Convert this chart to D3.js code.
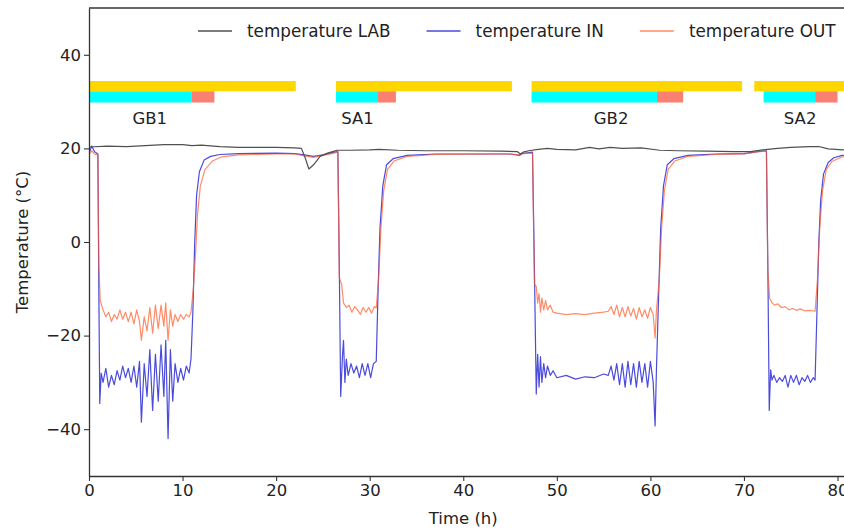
<!DOCTYPE html>
<html>
<head>
<meta charset="utf-8">
<script src="https://cdn.jsdelivr.net/npm/d3@7"></script>
<style>
  body { margin: 0; background: #fff; }
  svg { display: block; font-family: "DejaVu Sans", sans-serif; }
</style>
</head>
<body>
<svg id="chart" width="844" height="531"></svg>
<script>
// ---- data ----
var xTicks = [0, 10, 20, 30, 40, 50, 60, 70, 80];
var yTicks = [-40, -20, 0, 20, 40];

var phaseNames = ["GB1", "SA1", "GB2", "SA2"];
var phaseStart = [0, 26.4, 47.3, 71.1];     // yellow bar
var phaseEnd = [22.1, 45.2, 69.8, 90];
var coolStart = [0, 26.4, 47.3, 72.1];      // cyan bar
var coolEnd = [11.0, 30.8, 60.7, 77.6];
var warmEnd = [13.4, 32.8, 63.5, 80.0];     // salmon bar
var labelAt = [6.5, 28.7, 55.8, 76.0];

var tempLab = [[0,20.3],[2,20.5],[4,20.4],[6,20.6],[8,20.8],[10,20.8],[11,20.6],[12,20.7],[14,20.4],[16,20.2],[18,20.2],[20,20.2],[22,20.1],[22.7,20.0],[23.1,18.0],[23.5,15.6],[24,16.5],[24.7,18.3],[25.5,19.0],[26.5,19.6],[28,19.6],[30,19.7],[31,19.8],[33,19.6],[36,19.5],[40,19.5],[44,19.4],[45.8,19.3],[46.1,18.8],[46.4,19.2],[47,19.5],[48,19.8],[49,20.0],[50,19.8],[52,19.7],[53.5,20.2],[54.5,19.9],[55.7,20.2],[57,20.0],[59,20.1],[61,19.6],[63,19.5],[66,19.4],[69,19.3],[70.7,19.3],[72,19.7],[73.6,20.0],[75,20.2],[77,20.4],[78,20.4],[79,19.9],[80.6,19.7],[82,19.6]];

var tempIn = [[0,19],[0.3,20.5],[0.6,19.3],[0.95,18.8],[1.05,-10],[1.15,-34.5],[1.3,-28],[1.5,-30],[1.8,-27],[2.1,-31],[2.4,-28.5],[2.7,-30.5],[3.0,-27.5],[3.3,-29.5],[3.6,-26.5],[3.9,-29],[4.2,-27],[4.5,-30],[4.8,-26.5],[5.1,-31],[5.4,-25.5],[5.6,-38.5],[5.9,-26],[6.2,-33],[6.5,-23],[6.8,-36],[7.1,-24],[7.4,-34],[7.7,-22],[8.0,-33],[8.2,-21],[8.45,-42],[8.7,-23],[8.95,-34],[9.2,-26],[9.5,-30],[9.8,-27],[10.1,-29.5],[10.4,-26.5],[10.7,-28],[10.9,-25],[11.1,-15],[11.3,0],[11.5,10],[11.8,15],[12.3,17.5],[13,18.3],[14,18.7],[16,18.9],[20,19],[22,18.9],[23,18.6],[24,18.3],[25,18.6],[26.2,19.2],[26.6,19.3],[26.75,-5],[26.9,-33],[27.1,-24],[27.2,-21],[27.35,-30],[27.5,-25],[27.7,-28.5],[28,-26],[28.3,-28],[28.6,-26.5],[28.9,-29],[29.2,-26],[29.5,-28.5],[29.8,-26],[30.1,-29],[30.4,-26],[30.7,-25.5],[30.9,-10],[31.1,3],[31.4,12],[31.8,16.5],[32.5,17.8],[34,18.5],[37,18.8],[45,18.8],[46,18.5],[46.3,18.9],[47.4,19.2],[47.6,-5],[47.8,-32.5],[47.95,-24],[48.1,-31],[48.25,-24.5],[48.4,-30],[48.6,-26],[48.8,-29],[49.0,-26.5],[49.3,-28.5],[49.6,-27.5],[50,-29],[51,-28.5],[52,-29.3],[53,-28.8],[54,-29],[55,-28.2],[55.5,-28.5],[55.8,-26.5],[56.1,-29.5],[56.4,-26],[56.7,-30.5],[57,-26],[57.3,-31],[57.6,-25.5],[57.9,-30.5],[58.2,-26],[58.5,-31],[58.8,-25.5],[59.1,-30],[59.4,-26],[59.7,-31],[60.0,-25.5],[60.3,-30],[60.5,-39.3],[60.65,-27],[60.9,-10],[61.1,3],[61.4,12],[61.8,16.5],[62.5,17.8],[64,18.5],[67,18.8],[70,18.9],[71.5,19.3],[72.4,19.5],[72.55,-5],[72.7,-36],[72.85,-27.3],[73.0,-29.5],[73.2,-28.5],[73.5,-30],[73.8,-29],[74.1,-29.8],[74.4,-28.5],[74.7,-31],[75,-28.5],[75.3,-30],[75.6,-28.5],[75.9,-30.5],[76.2,-29],[76.5,-29.8],[76.8,-28.5],[77.1,-30],[77.4,-29],[77.6,-29.5],[77.8,-15],[78.0,0],[78.2,9],[78.5,14.5],[79,17],[79.6,18],[80.5,18.5],[82,18.8]];

var tempOut = [[0,18.8],[0.3,19.5],[0.6,18.8],[0.95,18.5],[1.05,-5],[1.2,-12.5],[1.5,-14.5],[1.8,-16],[2.1,-15],[2.4,-17],[2.7,-15.5],[3.0,-16.5],[3.3,-14.5],[3.6,-16.5],[3.9,-15],[4.2,-17],[4.5,-15],[4.8,-17.5],[5.1,-14.5],[5.4,-17],[5.6,-21],[5.9,-16],[6.2,-19],[6.5,-14],[6.8,-19.5],[7.1,-13.5],[7.4,-18.5],[7.7,-13.5],[8.0,-18],[8.2,-13],[8.45,-21],[8.7,-14.5],[8.95,-18],[9.2,-15.5],[9.5,-17],[9.8,-15.5],[10.1,-16.5],[10.4,-15.5],[10.7,-16],[10.9,-15],[11.15,-10],[11.4,-2],[11.6,6],[11.9,12],[12.4,15.5],[13.2,17.3],[14.2,18.2],[16,18.6],[20,18.8],[22,18.8],[23,18.4],[24,18.1],[25,18.5],[26.2,19.0],[26.6,19.3],[26.75,-7.7],[27.0,-9],[27.2,-13],[27.5,-14],[27.8,-13.5],[28.1,-15],[28.4,-13.8],[28.7,-14.5],[29,-15.5],[29.3,-14],[29.6,-15],[29.9,-14],[30.2,-15.2],[30.5,-13.8],[30.7,-14.1],[30.95,-8],[31.2,3],[31.5,11],[31.9,15.5],[32.6,17.3],[34,18.3],[37,18.7],[45,18.8],[46,18.6],[46.3,18.9],[47.4,19.0],[47.6,-9],[47.8,-9.5],[47.95,-13],[48.1,-11],[48.25,-15],[48.4,-12],[48.6,-14.5],[48.8,-12.5],[49.0,-14.5],[49.3,-13.5],[49.6,-15],[50,-15.2],[51,-15.5],[52,-15.3],[53,-15.5],[54,-15.2],[55,-15],[55.5,-14.8],[55.8,-13.8],[56.1,-15.5],[56.4,-13.5],[56.7,-16],[57,-14],[57.3,-16],[57.6,-13.8],[57.9,-15.8],[58.2,-14.2],[58.5,-16.5],[58.8,-14],[59.1,-16],[59.4,-14.5],[59.7,-16.3],[60.0,-14],[60.3,-15.5],[60.5,-20.5],[60.65,-14.5],[60.95,-8],[61.2,3],[61.5,11],[61.9,15.5],[62.6,17.3],[64,18.3],[67,18.7],[70,18.8],[71.5,19.3],[72.4,19.4],[72.55,-6.2],[72.75,-12],[73,-13],[73.3,-13.5],[73.6,-13.2],[74,-14],[74.4,-13.8],[74.8,-14.5],[75.2,-14.2],[75.6,-14.6],[76,-14.3],[76.5,-14.7],[77,-14.6],[77.6,-14.8],[77.85,-8],[78.1,3],[78.4,11],[78.8,15.5],[79.4,17.2],[80.5,18.2],[82,18.6]];

var seriesNames = ["temperature LAB", "temperature IN", "temperature OUT"];
var seriesColors = ["#505050", "#2b2bd6", "#ff5a28"];

// ---- chart ----
var margin = {top: 8, left: 89},
    plotW = 800, plotH = 468;

var svg = d3.select("#chart");

var x = d3.scaleLinear().domain([0, 85.5]).range([0, plotW]);
var y = d3.scaleLinear().domain([-50, 50]).range([plotH, 0]);

svg.append("defs").append("clipPath").attr("id", "clip")
  .append("rect").attr("width", plotW).attr("height", plotH);

var g = svg.append("g").attr("transform", "translate(" + margin.left + "," + margin.top + ")");
var plot = g.append("g").attr("clip-path", "url(#clip)");

// phase bars
function bars(starts, ends, lo, hi, color){
  plot.selectAll(null).data(starts).enter().append("rect")
    .attr("x", function(d){ return x(d); })
    .attr("width", function(d, i){ return x(ends[i]) - x(d); })
    .attr("y", y(hi))
    .attr("height", y(lo) - y(hi))
    .attr("fill", color);
}
bars(phaseStart, phaseEnd, 32.2, 34.4, "gold");
bars(coolEnd, warmEnd, 29.8, 32.2, "salmon");
bars(coolStart, coolEnd, 29.8, 32.2, "cyan");

plot.selectAll(null).data(phaseNames).enter().append("text")
  .attr("x", function(d, i){ return x(labelAt[i]); })
  .attr("y", y(26.4))
  .attr("dy", "0.35em")
  .attr("text-anchor", "middle")
  .attr("font-size", 16.5)
  .attr("fill", "#222")
  .text(function(d){ return d; });

// lines
var line = d3.line()
  .x(function(d){ return x(d[0]); })
  .y(function(d){ return y(d[1]); });

var series = [tempLab, tempIn, tempOut];
var opac = [1, 0.85, 0.7];
[1, 2, 0].forEach(function(k){
  plot.append("path")
    .datum(series[k])
    .attr("fill", "none")
    .attr("stroke", seriesColors[k])
    .attr("stroke-opacity", opac[k])
    .attr("stroke-width", 1.2)
    .attr("stroke-linejoin", "round")
    .attr("d", line);
});

// axes
var xAxis = d3.axisBottom(x).tickValues(xTicks).tickSize(5).tickPadding(3).tickSizeOuter(0);
var yAxis = d3.axisLeft(y).tickValues(yTicks).tickSize(5).tickPadding(3).tickSizeOuter(0)
  .tickFormat(function(d){ return d < 0 ? "\u2212" + Math.abs(d) : d; });

g.append("g").attr("class", "axis").attr("transform", "translate(0," + plotH + ")").call(xAxis);
g.append("g").attr("class", "axis").call(yAxis);
g.append("line").attr("x1", 0).attr("x2", plotW).attr("y1", 0).attr("y2", 0)
  .attr("stroke", "#333").attr("stroke-width", 1.3);

g.selectAll(".axis path").attr("stroke", "#333").attr("stroke-width", 1.3);
g.selectAll(".axis line").attr("stroke", "#333").attr("stroke-width", 1.1);
g.selectAll(".axis text").attr("font-size", 16.5).attr("fill", "#222")
  .attr("font-family", "DejaVu Sans, sans-serif");

g.append("text")
  .attr("x", x(40)).attr("y", plotH + 48)
  .attr("text-anchor", "middle").attr("font-size", 16.5).attr("fill", "#222")
  .text("Time (h)");

g.append("text")
  .attr("transform", "translate(" + (-61) + "," + y(0) + ") rotate(-90)")
  .attr("text-anchor", "middle").attr("font-size", 16.5).attr("fill", "#222")
  .text("Temperature (\u00b0C)");

// legend
var legend = g.append("g").attr("transform", "translate(109," + 23 + ")");
var lx = 0;
seriesNames.forEach(function(name, i){
  legend.append("line")
    .attr("x1", lx).attr("x2", lx + 34).attr("y1", 0).attr("y2", 0)
    .attr("stroke", seriesColors[i]).attr("stroke-opacity", opac[i]).attr("stroke-width", 1.4);
  var t = legend.append("text")
    .attr("x", lx + 49).attr("y", 0).attr("dy", "0.35em")
    .attr("font-size", 16.8).attr("fill", "#222")
    .text(name);
  lx += 49 + t.node().getComputedTextLength() + 36;
});
</script>
</body>
</html>
